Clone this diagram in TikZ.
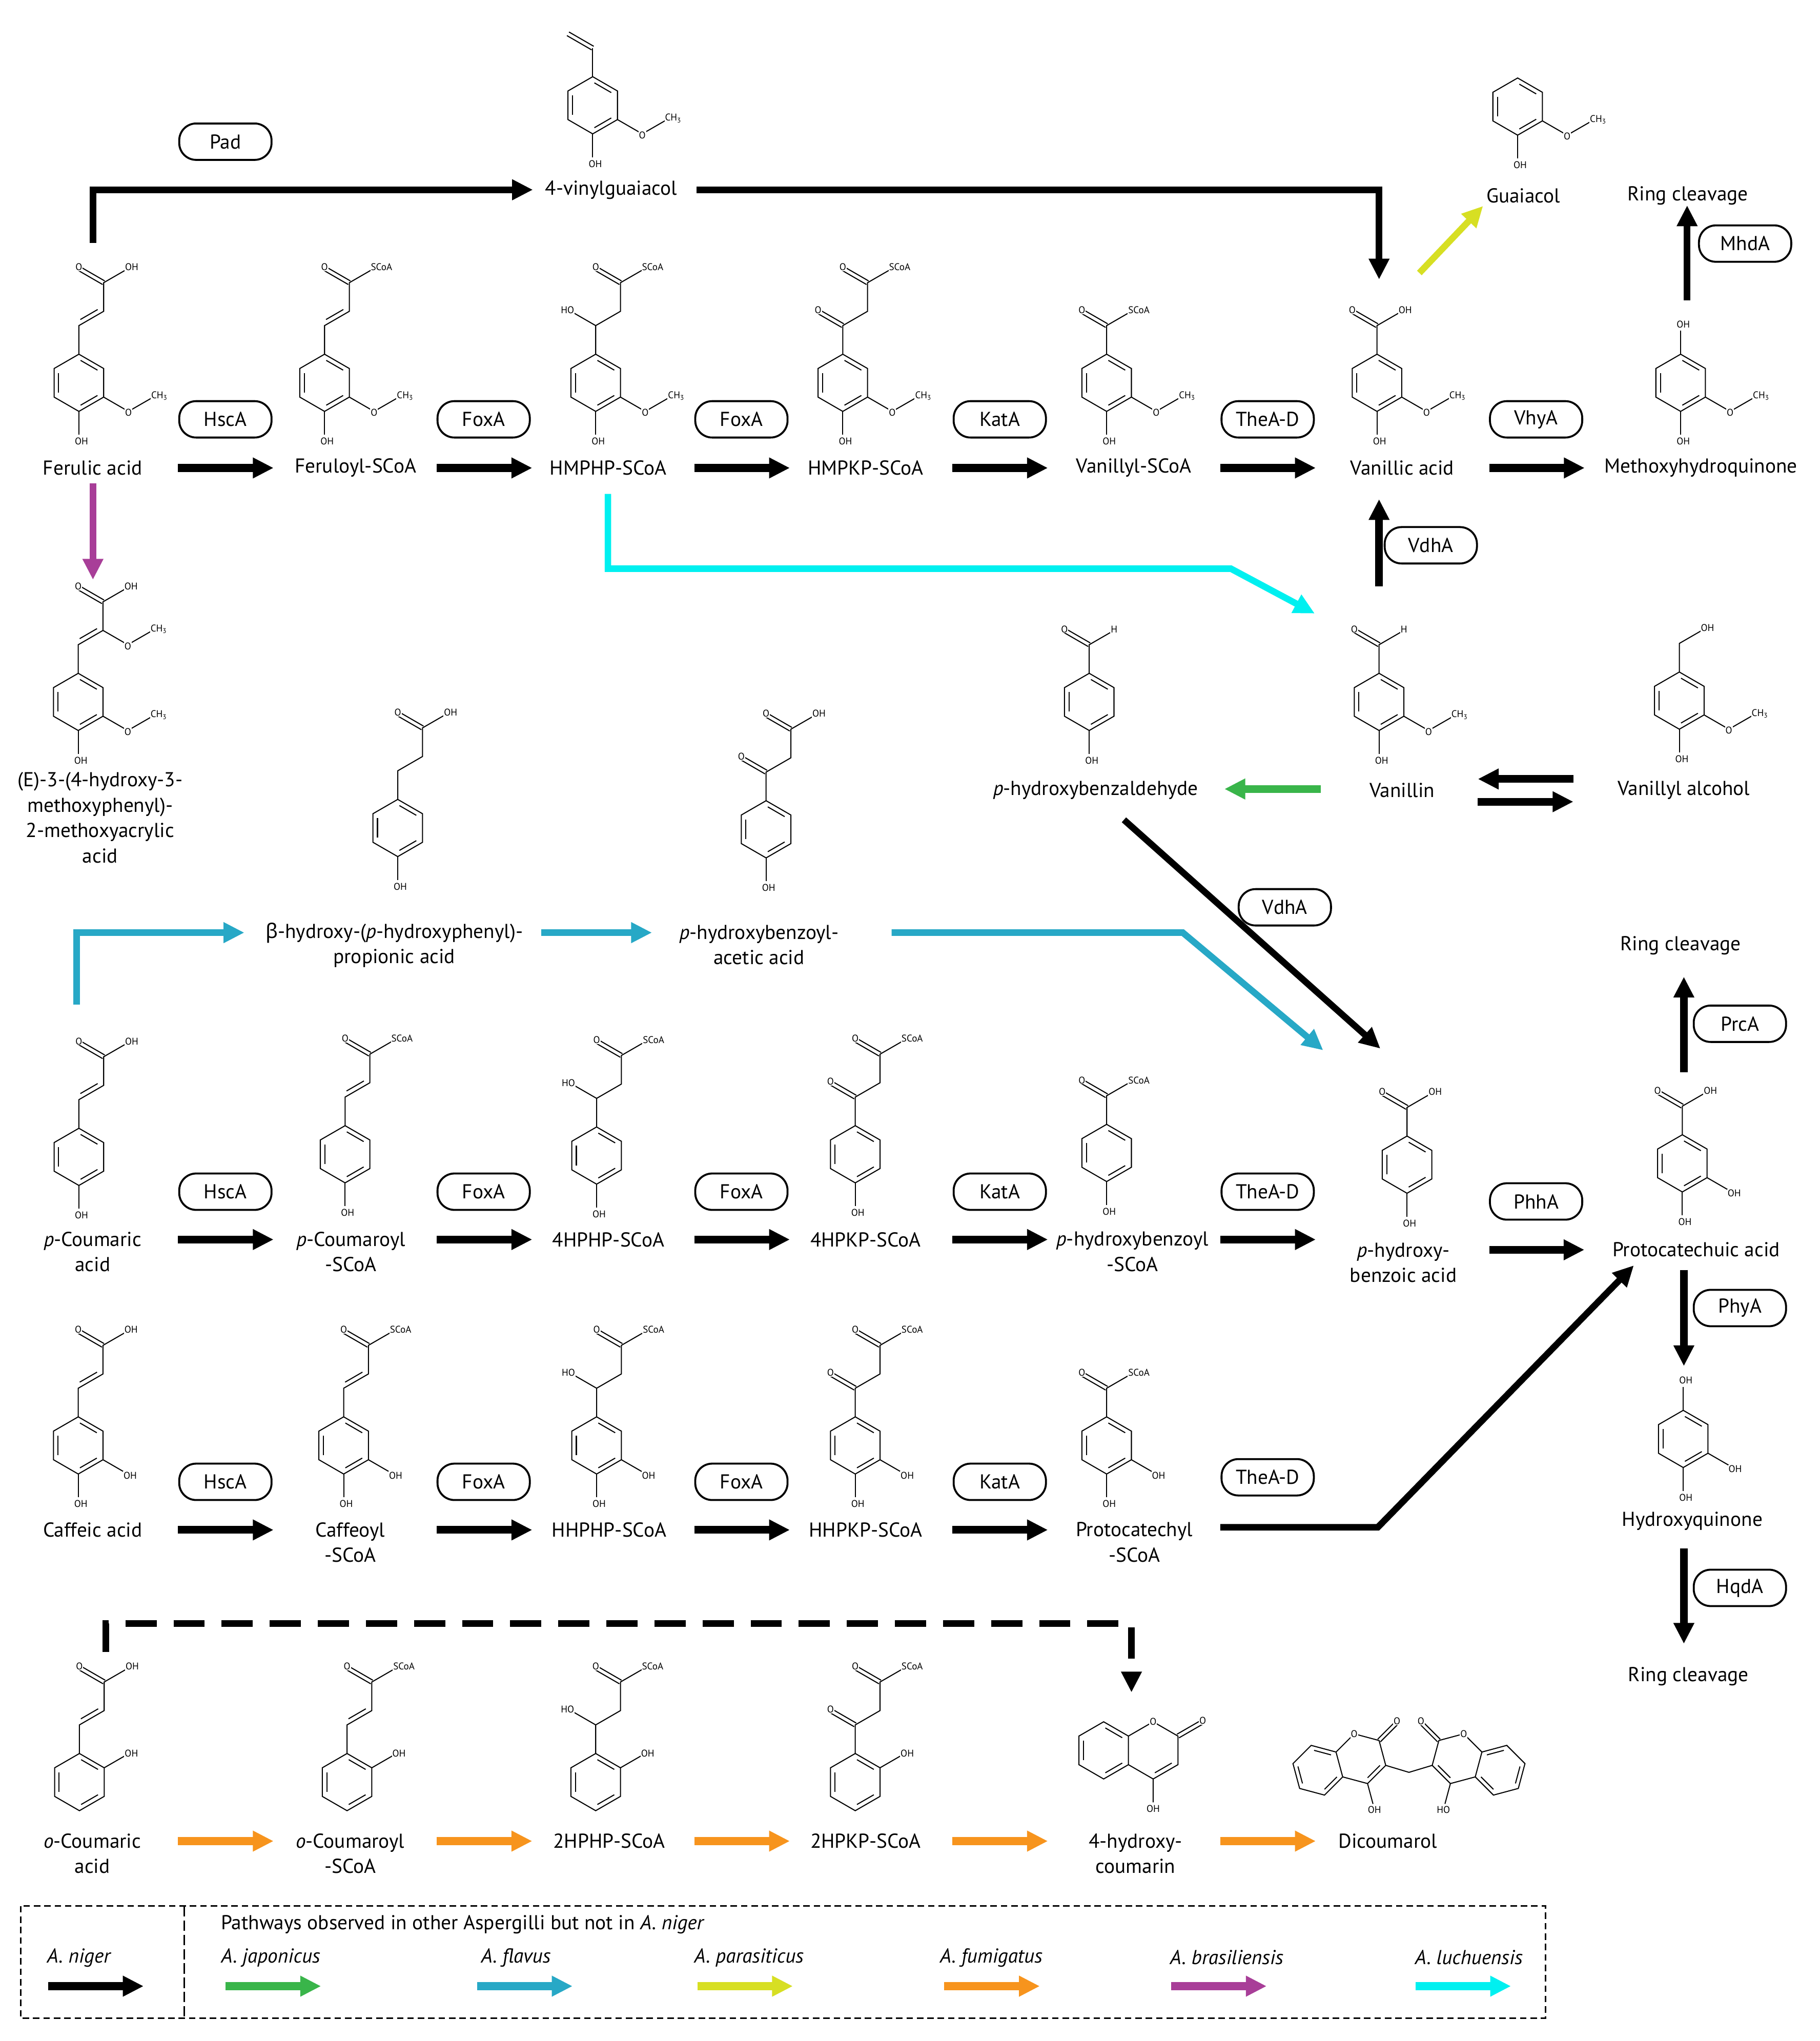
\documentclass[tikz,border=0pt]{standalone}
\usepackage{fontspec}
\setmainfont{PT Sans}
\newfontfamily\grkfont{Noto Sans}
\usepackage{tikz}
\usetikzlibrary{arrows.meta,calc}

\definecolor{cjap}{RGB}{57,181,74}
\definecolor{cfla}{RGB}{39,168,198}
\definecolor{cpar}{RGB}{215,223,35}
\definecolor{cfum}{RGB}{247,148,29}
\definecolor{cbra}{RGB}{168,62,152}
\definecolor{cluc}{RGB}{0,240,240}

\tikzset{
  bond/.style={line width=0.8pt},
  atom/.style={font=\fontsize{7.5}{8}\selectfont, inner sep=0.4pt, fill=white},
  lbl/.style={font=\fontsize{15.5}{19.5}\selectfont, align=center, inner sep=0pt},
  enz/.style={draw, fill=white, line width=1.5pt, rounded corners=13pt, minimum width=71pt, minimum height=28pt, inner sep=0pt, font=\fontsize{15.5}{18}\selectfont},
  flow/.style={line width=6pt, -{Triangle[length=16pt,width=15pt]}},
  route/.style={line width=5pt, -{Triangle[length=16pt,width=15pt]}},
  leg/.style={font=\fontsize{15.5}{18}\selectfont\itshape, anchor=west, inner sep=0pt},
}

% molecule parts, ring centre at origin, bond length 22
\newcommand{\ringsix}[1][60,-60,180]{%
  \draw[bond] (90:22) -- (30:22) -- (-30:22) -- (-90:22) -- (-150:22) -- (150:22) -- cycle;
  \foreach \m in {#1} {\draw[bond] (\m+25.7:17.3) -- (\m-25.7:17.3);}}
\newcommand{\dbond}[2]{%
  \draw[bond] ($(#1)!1.6pt!90:(#2)$) -- ($(#2)!1.6pt!-90:(#1)$)
    ($(#1)!1.6pt!-90:(#2)$) -- ($(#2)!1.6pt!90:(#1)$);}
\newcommand{\mol}[3]{\begin{scope}[shift={(#1,#2)},y=1pt]#3\end{scope}}
\newcommand{\ohbot}{\draw[bond] (0,-22) -- (0,-40); \node[atom] at (2,-45) {OH};}
\newcommand{\ohtop}{\draw[bond] (0,22) -- (0,40); \node[atom] at (2,45) {OH};}
\newcommand{\meo}{\draw[bond] (19.05,-11) -- (38.1,-22) -- (57.2,-11);
  \node[atom] at (38.1,-23) {O}; \node[atom] at (62,-10) {CH\textsubscript{3}};}
\newcommand{\ohlr}{\draw[bond] (19.05,-11) -- (38.1,-22); \node[atom] at (40,-23) {OH};}
\newcommand{\ohur}{\draw[bond] (19.05,11) -- (38.1,22); \node[atom] at (40,22) {OH};}
\newcommand{\cinnam}[1]{\draw[bond] (0,22) -- (0,44) -- (19.05,55) -- (19.05,77) -- (38.1,88);
  \draw[bond] (1.11,48.68) -- (14.44,56.38); \dbond{19.05,77}{0,88}
  \node[atom] at (0,89) {O}; \node[atom,anchor=west] at (35,89) {#1};}
\newcommand{\hacyl}[1]{\draw[bond] (0,22) -- (0,44) -- (19.05,55) -- (19.05,77) -- (38.1,88) (0,44) -- (-19.05,55);
  \dbond{19.05,77}{0,88}
  \node[atom] at (0,89) {O}; \node[atom,anchor=west] at (35,89) {#1}; \node[atom,anchor=east] at (-16,56) {HO};}
\newcommand{\kacyl}[1]{\draw[bond] (0,22) -- (0,44) -- (19.05,55) -- (19.05,77) -- (38.1,88);
  \dbond{0,44}{-19.05,55} \dbond{19.05,77}{0,88}
  \node[atom] at (-19.05,56) {O}; \node[atom] at (0,89) {O}; \node[atom,anchor=west] at (35,89) {#1};}
\newcommand{\acyl}[1]{\draw[bond] (0,22) -- (0,44) -- (19.05,55); \dbond{0,44}{-19.05,55}
  \node[atom] at (-19.05,56) {O}; \node[atom,anchor=west] at (16,56) {#1};}
\newcommand{\hmethyl}{\draw[bond] (0,22) -- (0,44) -- (19.05,55); \node[atom,anchor=west] at (16,56) {OH};}
\newcommand{\propac}{\draw[bond] (0,22) -- (0,44) -- (19.05,55) -- (19.05,77) -- (38.1,88); \dbond{19.05,77}{0,88}
  \node[atom] at (0,89) {O}; \node[atom,anchor=west] at (35,89) {OH};}
\newcommand{\vinyl}{\draw[bond] (0,22) -- (0,44); \dbond{0,44}{-19.05,55}}
\newcommand{\meoacryl}{\draw[bond] (0,22) -- (0,44) -- (19.05,55) -- (19.05,77) -- (38.1,88) (19.05,55) -- (38.1,44) -- (57.2,55);
  \draw[bond] (1.11,48.68) -- (14.44,56.38); \dbond{19.05,77}{0,88}
  \node[atom] at (0,89) {O}; \node[atom,anchor=west] at (35,89) {OH};
  \node[atom] at (38.1,43) {O}; \node[atom] at (62,56) {CH\textsubscript{3}};}
\newcommand{\coumarin}[2]{%
  \begin{scope}[shift={(-38.1,0)}]\ringsix\end{scope}
  \draw[bond] (-19.05,11) -- (0,22) -- (19.05,11) -- (19.05,-11) -- (0,-22) -- (-19.05,-11) (0,-22) -- (0,-40);
  \draw[bond] (-34.3:17.3) -- (-85.7:17.3);
  \dbond{19.05,11}{38.1,22}
  \coordinate (#1) at (19.05,-11);
  \node[atom] at (0,22) {O}; \node[atom] at (38.1,23) {O}; \node[atom] at (0,-45) {#2};}

\begin{document}
\begin{tikzpicture}[x=1pt,y=-1pt]
\path[use as bounding box, fill=white] (0,0) rectangle (1400.2,1570.2);

% structures
\mol{456}{81}{\ringsix\ohbot\meo\vinyl}
\mol{1167.6}{82}{\ringsix\ohbot\meo}
\mol{60.7}{294.5}{\ringsix\ohbot\meo\cinnam{OH}}
\mol{249.7}{294.5}{\ringsix\ohbot\meo\cinnam{SCoA}}
\mol{458.3}{294.5}{\ringsix\ohbot\meo\hacyl{SCoA}}
\mol{648.4}{294.5}{\ringsix\ohbot\meo\kacyl{SCoA}}
\mol{851.4}{294.5}{\ringsix\ohbot\meo\acyl{SCoA}}
\mol{1059.4}{294.5}{\ringsix\ohbot\meo\acyl{OH}}
\mol{1293}{294.5}{\ringsix\ohbot\meo\ohtop}
\mol{60.2}{540}{\ringsix\ohbot\meo\meoacryl}
\mol{838}{540}{\ringsix\ohbot\acyl{H}}
\mol{1061}{540}{\ringsix\ohbot\meo\acyl{H}}
\mol{1292}{539}{\ringsix\ohbot\meo\hmethyl}
\mol{306}{637}{\ringsix\ohbot\propac}
\mol{589.4}{638}{\ringsix\ohbot\kacyl{OH}}
\mol{60.7}{890}{\ringsix\ohbot\cinnam{OH}}
\mol{265.5}{888}{\ringsix\ohbot\cinnam{SCoA}}
\mol{459}{889}{\ringsix\ohbot\hacyl{SCoA}}
\mol{658}{888}{\ringsix\ohbot\kacyl{SCoA}}
\mol{851.4}{887}{\ringsix\ohbot\acyl{SCoA}}
\mol{1082.5}{896}{\ringsix\ohbot\acyl{OH}}
\mol{1294.3}{895}{\ringsix\ohbot\ohlr\acyl{OH}}
\mol{60.2}{1112}{\ringsix\ohbot\ohlr\cinnam{OH}}
\mol{264.4}{1112}{\ringsix\ohbot\ohlr\cinnam{SCoA}}
\mol{459}{1112}{\ringsix\ohbot\ohlr\hacyl{SCoA}}
\mol{658}{1112}{\ringsix\ohbot\ohlr\kacyl{SCoA}}
\mol{851.4}{1112}{\ringsix\ohbot\ohlr\acyl{SCoA}}
\mol{1295}{1107}{\ringsix\ohbot\ohlr\ohtop}
\mol{61.1}{1371}{\ringsix\ohur\cinnam{OH}}
\mol{267}{1371}{\ringsix\ohur\cinnam{SCoA}}
\mol{458.3}{1371}{\ringsix\ohur\hacyl{SCoA}}
\mol{658}{1371}{\ringsix\ohur\kacyl{SCoA}}
\mol{887.2}{1346.6}{\coumarin{hcc}{OH}}
\begin{scope}[shift={(1047,1353)},y=1pt,rotate=15,scale=0.9]\coumarin{dl}{OH}\end{scope}
\begin{scope}[shift={(1121,1353)},y=1pt,xscale=-1,rotate=15,scale=0.9]\coumarin{dr}{HO}\end{scope}
\draw[bond] (dl) -- (1084,1363.5) -- (dr);

% names
\node[lbl] (vg) at (470.2,146) {4-vinylguaiacol};
\node[lbl] (gu) at (1172,150.4) {Guaiacol};
\node[lbl] (rc1) at (1298.5,150.4) {Ring cleavage};
\node[lbl] (fa) at (71.3,360) {Ferulic acid};
\node[lbl] (fs) at (273.5,360) {Feruloyl-SCoA};
\node[lbl] (hmphp) at (468,360) {HMPHP-SCoA};
\node[lbl] (hmpkp) at (666,360) {HMPKP-SCoA};
\node[lbl] (vs) at (872.3,360) {Vanillyl-SCoA};
\node[lbl] (va) at (1078.8,360) {Vanillic acid};
\node[lbl] (mhq) at (1308.6,360) {Methoxyhydroquinone};
\node[lbl] (e3) at (77,629) {(E)-3-(4-hydroxy-3-\\methoxyphenyl)-\\2-methoxyacrylic\\acid};
\node[lbl] (hba) at (843,608) {\textit{p}-hydroxybenzaldehyde};
\node[lbl] (vn) at (1078.8,608) {Vanillin};
\node[lbl] (val) at (1295.4,608) {Vanillyl alcohol};
\node[lbl] (bpa) at (303.3,727) {{\grkfont β}-hydroxy-(\textit{p}-hydroxyphenyl)-\\propionic acid};
\node[lbl] (hbaa) at (584,727) {\textit{p}-hydroxybenzoyl-\\acetic acid};
\node[lbl] (rc2) at (1293,727.5) {Ring cleavage};
\node[lbl] (pc) at (71.3,963) {\textit{p}-Coumaric\\acid};
\node[lbl] (pcs) at (270,963) {\textit{p}-Coumaroyl\\-SCoA};
\node[lbl] (h4php) at (468,953.6) {4HPHP-SCoA};
\node[lbl] (h4pkp) at (666,953.6) {4HPKP-SCoA};
\node[lbl] (hbs) at (871.2,963) {\textit{p}-hydroxybenzoyl\\-SCoA};
\node[lbl] (hb) at (1079.7,971.4) {\textit{p}-hydroxy-\\benzoic acid};
\node[lbl] (pca) at (1305,961.2) {Protocatechuic acid};
\node[lbl] (ca) at (71.3,1177) {Caffeic acid};
\node[lbl] (cas) at (269.4,1186.5) {Caffeoyl\\-SCoA};
\node[lbl] (hhphp) at (468.6,1177) {HHPHP-SCoA};
\node[lbl] (hhpkp) at (666,1177) {HHPKP-SCoA};
\node[lbl] (pts) at (872.7,1186.5) {Protocatechyl\\-SCoA};
\node[lbl] (hq) at (1302,1170.3) {Hydroxyquinone};
\node[lbl] (rc3) at (1299,1289.6) {Ring cleavage};
\node[lbl] (oc) at (71,1426) {\textit{o}-Coumaric\\acid};
\node[lbl] (ocs) at (269.4,1426) {\textit{o}-Coumaroyl\\-SCoA};
\node[lbl] (h2php) at (468.6,1416.4) {2HPHP-SCoA};
\node[lbl] (h2pkp) at (666,1416.4) {2HPKP-SCoA};
\node[lbl] (hc) at (873.6,1426) {4-hydroxy-\\coumarin};
\node[lbl] (dic) at (1067.8,1416.4) {Dicoumarol};

% arrow ends
\foreach \r/\y in {a/360,b/953.6,c/1177,d/1416.4}
  \foreach \n/\x in {1/137,2/336,3/534.2,4/732.7,5/938.8,6/1145.7}
  {\coordinate (\r\n s) at (\x,\y); \coordinate (\r\n e) at (\x+73.5,\y);}
\coordinate (padS) at (71.5,187); \coordinate (padE) at (410,146);
\coordinate (vgS) at (536,146); \coordinate (vaN) at (1061,215);
\coordinate (guS) at (1092,210); \coordinate (guE) at (1141,158.5);
\coordinate (mhqN) at (1298,231); \coordinate (rc1S) at (1298,158);
\coordinate (vnN) at (1061,451); \coordinate (vaS) at (1061,384);
\coordinate (cyS) at (467.7,380); \coordinate (cyK) at (947,437.5); \coordinate (cyE) at (1011.5,472);
\coordinate (faS) at (71.5,372); \coordinate (e3N) at (71.5,446);
\coordinate (vnW) at (1016,607); \coordinate (hbaE) at (942,607);
\coordinate (valW1) at (1210.5,599.3); \coordinate (vnE1) at (1137,599.3);
\coordinate (vnE2) at (1137,616.8); \coordinate (valW2) at (1210.5,616.8);
\coordinate (hbaS) at (864.7,630.7); \coordinate (hbN) at (1062,806.7);
\coordinate (pcN) at (59,773); \coordinate (bpaW) at (188,717.5);
\coordinate (bpaE) at (416.5,717.5); \coordinate (hbaaW) at (501.6,717.5);
\coordinate (hbaaE) at (686,717.5); \coordinate (blK) at (910,717.5); \coordinate (hbN2) at (1018,808);
\coordinate (pcaN) at (1295.5,825); \coordinate (rc2S) at (1295.5,751.4);
\coordinate (hbE) at (1145.7,961.5); \coordinate (pcaW) at (1219,961.5);
\coordinate (pcaS) at (1295.5,977); \coordinate (hqN) at (1295.5,1051);
\coordinate (hqS) at (1295.5,1191.4); \coordinate (rc3N) at (1295.5,1264.6);
\coordinate (ptE) at (938.8,1175); \coordinate (ptK) at (1060,1175); \coordinate (pcaW2) at (1257,973.5);
\coordinate (ocN) at (81.5,1271); \coordinate (dK) at (870.5,1249); \coordinate (hcN) at (870.5,1302);

% A. niger
\foreach \n in {1,...,6} \draw[flow] (a\n s) -- (a\n e);
\foreach \n in {1,...,5} \draw[flow] (b\n s) -- (b\n e);
\foreach \n in {1,...,4} \draw[flow] (c\n s) -- (c\n e);
\draw[route] (padS) |- (padE);
\draw[route] (vgS) -| (vaN);
\draw[route] (mhqN) -- (rc1S);
\draw[flow] (vnN) -- (vaS);
\draw[flow] (valW1) -- (vnE1);
\draw[flow] (vnE2) -- (valW2);
\draw[route] (hbaS) -- (hbN);
\draw[flow] (pcaN) -- (rc2S);
\draw[flow] (hbE) -- (pcaW);
\draw[flow] (pcaS) -- (hqN);
\draw[flow] (hqS) -- (rc3N);
\draw[route] (ptE) -- (ptK) -- (pcaW2);
\draw[route, dash pattern=on 24pt off 13pt] (ocN) |- (dK) -- (hcN);
% other Aspergilli
\draw[route,cpar] (guS) -- (guE);
\draw[route,cluc] (cyS) |- (cyK) -- (cyE);
\draw[route,cbra] (faS) -- (e3N);
\draw[flow,cjap] (vnW) -- (hbaE);
\draw[route,cfla] (pcN) |- (bpaW);
\draw[route,cfla] (bpaE) -- (hbaaW);
\draw[route,cfla] (hbaaE) -- (blK) -- (hbN2);
\foreach \n in {1,...,5} \draw[flow,cfum] (d\n s) -- (d\n e);

% enzymes
\node[enz] (pad) at (173.4,109) {Pad};
\foreach \r/\y in {1/322.6,2/916.8,3/1140}{
  \node[enz] (hsc\r) at (173.4,\y) {HscA};
  \node[enz] (foxa\r) at (372.1,\y) {FoxA};
  \node[enz] (foxb\r) at (570.4,\y) {FoxA};
  \node[enz] (kat\r) at (769.2,\y) {KatA};}
\node[enz] (the1) at (975.3,322.6) {TheA-D};
\node[enz] (the2) at (975.3,916.8) {TheA-D};
\node[enz] (the3) at (975.3,1136.5) {TheA-D};
\node[enz] (vhy) at (1181.8,322.6) {VhyA};
\node[enz] (mhd) at (1342.6,187.4) {MhdA};
\node[enz] (vdh1) at (1100.8,419.5) {VdhA};
\node[enz] (vdh2) at (988.5,698) {VdhA};
\node[enz] (prc) at (1338.6,787.6) {PrcA};
\node[enz] (phh) at (1181.8,924.3) {PhhA};
\node[enz] (phy) at (1338.6,1006.3) {PhyA};
\node[enz] (hqd) at (1338.6,1221.6) {HqdA};

% legend
\draw[line width=1.2pt, dash pattern=on 5pt off 3pt] (15.8,1466.4) rectangle (1189,1552.8);
\draw[line width=1.2pt, dash pattern=on 8pt off 3pt] (141.8,1466.4) -- (141.8,1552.8);
\node[lbl, anchor=west] (lpw) at (169.8,1480.7) {Pathways observed in other Aspergilli but not in \textit{A. niger}};
\foreach \nm/\col/\lx/\ax/\txt in {ni/black/36/37/A. niger, ja/cjap/170/173.5/A. japonicus, fl/cfla/370/367/A. flavus, pa/cpar/534/536.5/A. parasiticus, fu/cfum/723/726.5/A. fumigatus, br/cbra/900/901/A. brasiliensis, lu/cluc/1088.5/1089/A. luchuensis}
{
  \node[leg] (l\nm) at (\lx,1506) {\txt};
  \coordinate (l\nm s) at (\ax,1528);
  \coordinate (l\nm e) at (\ax+73.5,1528);
  \draw[flow,\col] (l\nm s) -- (l\nm e);
}
\end{tikzpicture}
\end{document}
